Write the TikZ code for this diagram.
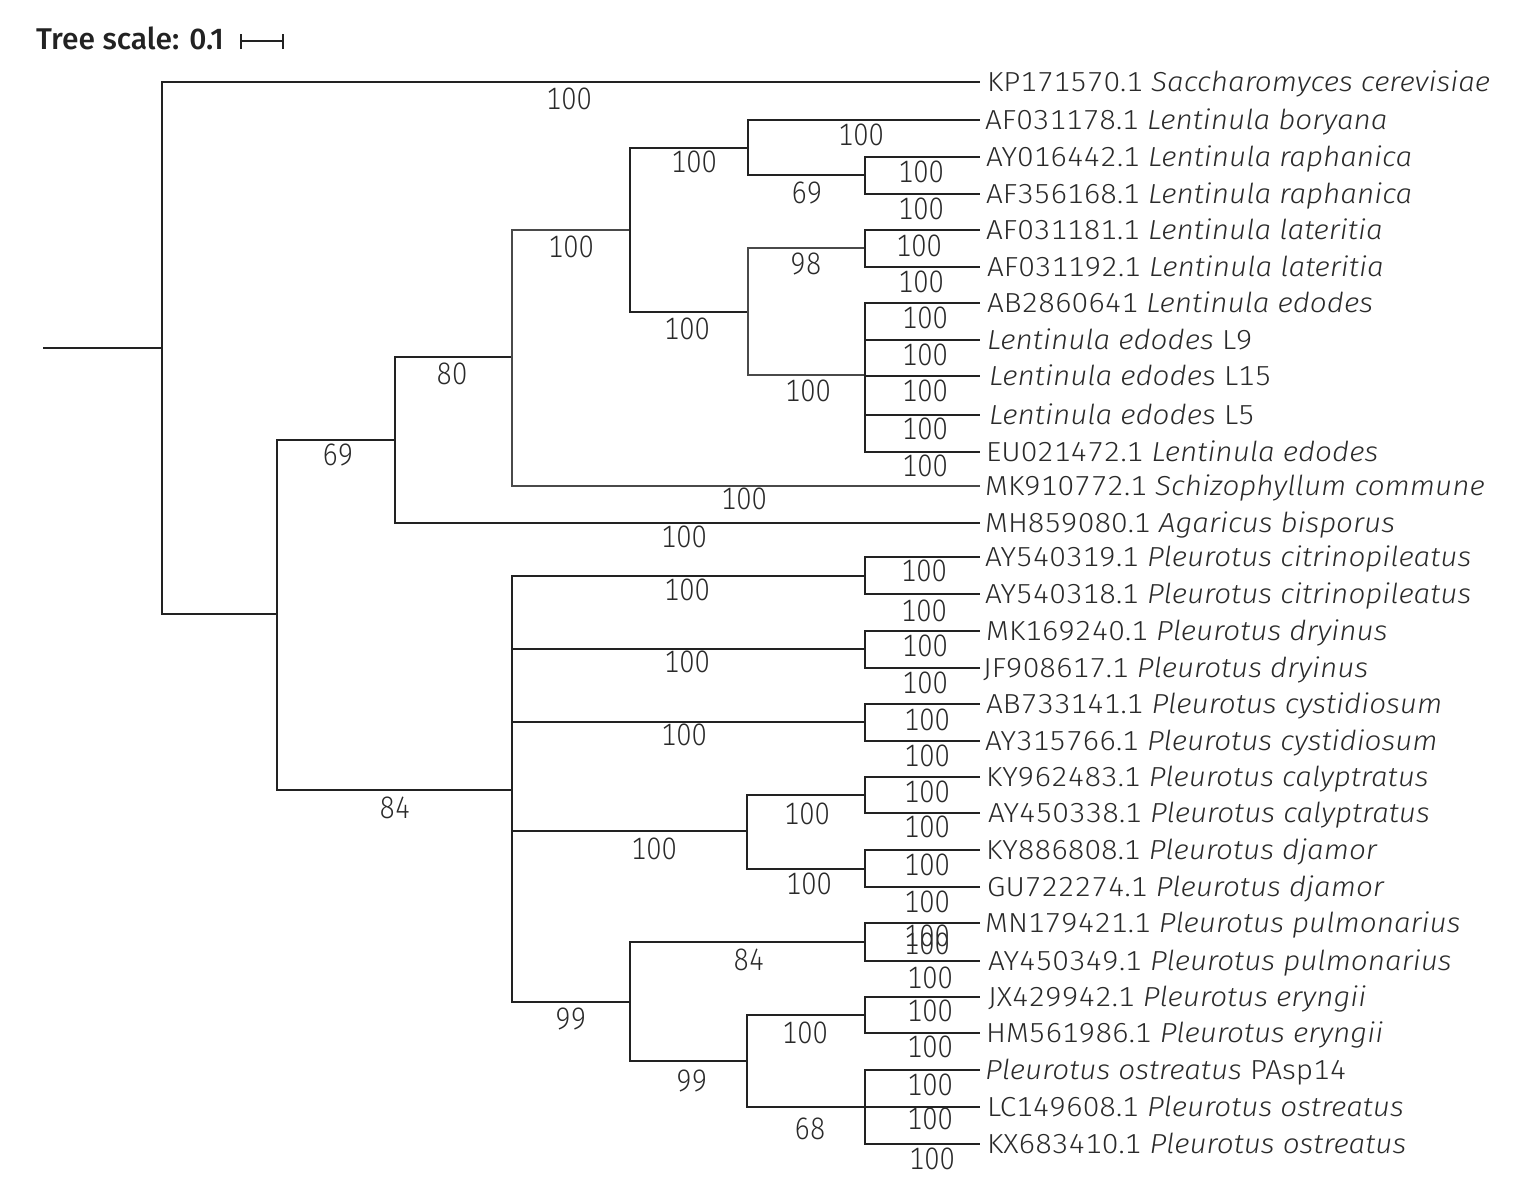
\documentclass[tikz,border=0pt]{standalone}
\usepackage{fontspec}
\setmainfont{Fira Sans}[UprightFont=* Light, ItalicFont=* Light Italic, BoldFont=* Medium, Numbers={Monospaced,Lining}]
\newfontfamily\leaffont{Fira Sans}[UprightFont=* Light, ItalicFont=* Light Italic, Numbers={Monospaced,Lining}, FakeStretch=1.08]
\newfontfamily\bsfont{Fira Sans}[UprightFont=* Light, Numbers={Monospaced,Lining}, FakeStretch=0.88]
\newfontfamily\titlefont{Fira Sans}[UprightFont=* Medium, Numbers={Proportional,Lining}]
\definecolor{ln}{HTML}{222222}
\definecolor{lng}{HTML}{4A4A4A}
\definecolor{tx}{HTML}{2A2A2A}
\begin{document}
\begin{tikzpicture}[x=1pt,y=-1pt,
  br/.style={draw=ln,line width=1.6pt,line join=miter},
  brg/.style={draw=lng,line width=1.1pt,line join=miter},
  leaf/.style={anchor=west,inner sep=0pt,text=tx,text height=19pt,text depth=0pt,font=\leaffont\fontsize{27.5}{30}\selectfont},
  bs/.style={anchor=center,inner sep=0pt,text=tx,text height=21.5pt,text depth=0pt,font=\bsfont\fontsize{31}{33}\selectfont}]
\useasboundingbox (0,0) rectangle (1515,1179);
% title and scale bar
\node[anchor=base west,inner sep=0pt,text=ln,font=\titlefont\fontsize{30}{32}\selectfont] (title) at (36,49) {Tree scale: 0.1};
\coordinate (sb1) at (241,41);
\coordinate (sb2) at (283,41);
\draw[br,line width=1.4pt] (sb1) -- (sb2);
\draw[br,line width=1.4pt] ([yshift=-8pt]sb1) -- ([yshift=7pt]sb1);
\draw[br,line width=1.4pt] ([yshift=-8pt]sb2) -- ([yshift=7pt]sb2);
% leaves
\foreach \i/\y in {1/82,2/120,3/157,4/194,5/230,6/267,7/303,8/340,9/376,10/415,11/452,12/486,13/523,14/557,15/594,16/631,17/668,18/704,19/741,20/777,21/813,22/850,23/887,24/923,25/961,26/997,27/1033,28/1070,29/1107,30/1144}
  {\coordinate (l\i) at (980,\y);}
% internal nodes
\coordinate (r0) at (43,348);
\coordinate (r) at (162,348);
\coordinate (a) at (277,614);
\coordinate (b) at (395,440);
\coordinate (d) at (512,357);
\coordinate (e) at (630,230);
\coordinate (f) at (748,148);
\coordinate (h) at (865,175);
\coordinate (g) at (748,312);
\coordinate (i) at (865,248);
\coordinate (j) at (865,375);
\coordinate (c) at (512,790);
\coordinate (k1) at (865,576);
\coordinate (k2) at (865,649);
\coordinate (k3) at (865,722);
\coordinate (m) at (747,831);
\coordinate (m1) at (865,795);
\coordinate (m2) at (865,869);
\coordinate (n) at (630,1002);
\coordinate (p) at (865,942);
\coordinate (q) at (747,1061);
\coordinate (s) at (865,1015);
\coordinate (t) at (865,1107);
% branches
\draw[br] (r0) -- (r);
\draw[br] (r) |- (l1);
\draw[br] (r) |- (a);
\draw[br] (a) |- (b);
\draw[br] (a) |- (c);
\draw[br] (b) |- (d);
\draw[br] (b) |- (l13);
\draw[brg] (d) |- (e);
\draw[brg] (d) |- (l12);
\draw[br] (e) |- (f);
\draw[br] (e) |- (g);
\draw[br] (f) |- (l2);
\draw[br] (f) |- (h);
\draw[br] (h) |- (l3);
\draw[br] (h) |- (l4);
\draw[brg] (g) |- (i);
\draw[brg] (g) |- (j);
\draw[br] (i) |- (l5);
\draw[br] (i) |- (l6);
\foreach \k in {7,8,9,10,11} {\draw[br] (j) |- (l\k);}
\draw[br] (c) |- (k1);
\draw[br] (c) |- (k2);
\draw[br] (c) |- (k3);
\draw[br] (c) |- (m);
\draw[br] (c) |- (n);
\draw[br] (k1) |- (l14);
\draw[br] (k1) |- (l15);
\draw[br] (k2) |- (l16);
\draw[br] (k2) |- (l17);
\draw[br] (k3) |- (l18);
\draw[br] (k3) |- (l19);
\draw[br] (m) |- (m1);
\draw[br] (m) |- (m2);
\draw[br] (m1) |- (l20);
\draw[br] (m1) |- (l21);
\draw[br] (m2) |- (l22);
\draw[br] (m2) |- (l23);
\draw[br] (n) |- (p);
\draw[br] (n) |- (q);
\draw[br] (p) |- (l24);
\draw[br] (p) |- (l25);
\draw[br] (q) |- (s);
\draw[br] (q) |- (t);
\draw[br] (s) |- (l26);
\draw[br] (s) |- (l27);
\foreach \k in {28,29,30} {\draw[br] (t) |- (l\k);}
% leaf labels
\node[leaf] (t1) at ([xshift=7pt]l1) {KP171570.1 \textit{Saccharomyces cerevisiae}};
\node[leaf] (t2) at ([xshift=5pt]l2) {AF031178.1 \textit{Lentinula boryana}};
\node[leaf] (t3) at ([xshift=6pt]l3) {AY016442.1 \textit{Lentinula raphanica}};
\node[leaf] (t4) at ([xshift=6pt]l4) {AF356168.1 \textit{Lentinula raphanica}};
\node[leaf] (t5) at ([xshift=6pt]l5) {AF031181.1 \textit{Lentinula lateritia}};
\node[leaf] (t6) at ([xshift=7pt]l6) {AF031192.1 \textit{Lentinula lateritia}};
\node[leaf] (t7) at ([xshift=7pt]l7) {AB2860641 \textit{Lentinula edodes}};
\node[leaf] (t8) at ([xshift=7pt]l8) {\textit{Lentinula edodes} L9};
\node[leaf] (t9) at ([xshift=9pt]l9) {\textit{Lentinula edodes} L15};
\node[leaf] (t10) at ([xshift=9pt]l10) {\textit{Lentinula edodes} L5};
\node[leaf] (t11) at ([xshift=6pt]l11) {EU021472.1 \textit{Lentinula edodes}};
\node[leaf] (t12) at ([xshift=5pt]l12) {MK910772.1 \textit{Schizophyllum commune}};
\node[leaf] (t13) at ([xshift=5pt]l13) {MH859080.1 \textit{Agaricus bisporus}};
\node[leaf] (t14) at ([xshift=5pt]l14) {AY540319.1 \textit{Pleurotus citrinopileatus}};
\node[leaf] (t15) at ([xshift=5pt]l15) {AY540318.1 \textit{Pleurotus citrinopileatus}};
\node[leaf] (t16) at ([xshift=6pt]l16) {MK169240.1 \textit{Pleurotus dryinus}};
\node[leaf] (t17) at ([xshift=3pt]l17) {JF908617.1 \textit{Pleurotus dryinus}};
\node[leaf] (t18) at ([xshift=6pt]l18) {AB733141.1 \textit{Pleurotus cystidiosum}};
\node[leaf] (t19) at ([xshift=5pt]l19) {AY315766.1 \textit{Pleurotus cystidiosum}};
\node[leaf] (t20) at ([xshift=6pt]l20) {KY962483.1 \textit{Pleurotus calyptratus}};
\node[leaf] (t21) at ([xshift=8pt]l21) {AY450338.1 \textit{Pleurotus calyptratus}};
\node[leaf] (t22) at ([xshift=6pt]l22) {KY886808.1 \textit{Pleurotus djamor}};
\node[leaf] (t23) at ([xshift=7pt]l23) {GU722274.1 \textit{Pleurotus djamor}};
\node[leaf] (t24) at ([xshift=5pt]l24) {MN179421.1 \textit{Pleurotus pulmonarius}};
\node[leaf] (t25) at ([xshift=8pt]l25) {AY450349.1 \textit{Pleurotus pulmonarius}};
\node[leaf] (t26) at ([xshift=8pt]l26) {JX429942.1 \textit{Pleurotus eryngii}};
\node[leaf] (t27) at ([xshift=6pt]l27) {HM561986.1 \textit{Pleurotus eryngii}};
\node[leaf] (t28) at ([xshift=5pt]l28) {\textit{Pleurotus ostreatus} PAsp14};
\node[leaf] (t29) at ([xshift=7pt]l29) {LC149608.1 \textit{Pleurotus ostreatus}};
\node[leaf] (t30) at ([xshift=7pt]l30) {KX683410.1 \textit{Pleurotus ostreatus}};
% branch support values
\foreach \n/\x/\y/\v in {
  s1/569/99/100, s2/861/135/100, s3/694/162/100, s4/807/193/69, s5/921/172/100, s6/921/209/100,
  s7/571/247/100, s8/919/246/100, s9/806/264/98, s10/921/282/100, s11/687/329/100,
  s12/925/318/100, s13/925/355/100, s14/808/391/100, s15/925/391/100, s16/925/429/100, s17/925/466/100,
  s18/744/499/100, s19/684/537/100, s20/452/374/80, s21/338/455/69, s22/395/808/84,
  s23/687/590/100, s24/924/571/100, s25/924/611/100,
  s26/687/662/100, s27/925/646/100, s28/925/683/100,
  s29/684/735/100, s30/927/720/100, s31/927/756/100,
  s32/654/849/100, s33/807/814/100, s34/927/792/100, s35/927/827/100, s36/927/865/100,
  s37/809/884/100, s38/927/902/100,
  s39/927/936/100, s40/927/944/100, s41/930/978/100, s42/749/960/84,
  s43/571/1019/99, s44/930/1011/100, s45/805/1033/100, s46/930/1047/100,
  s47/692/1081/99, s48/930/1085/100, s49/930/1119/100, s50/810/1129/68, s51/932/1159/100}
  {\node[bs] (\n) at (\x,\y) {\v};}
\end{tikzpicture}
\end{document}
